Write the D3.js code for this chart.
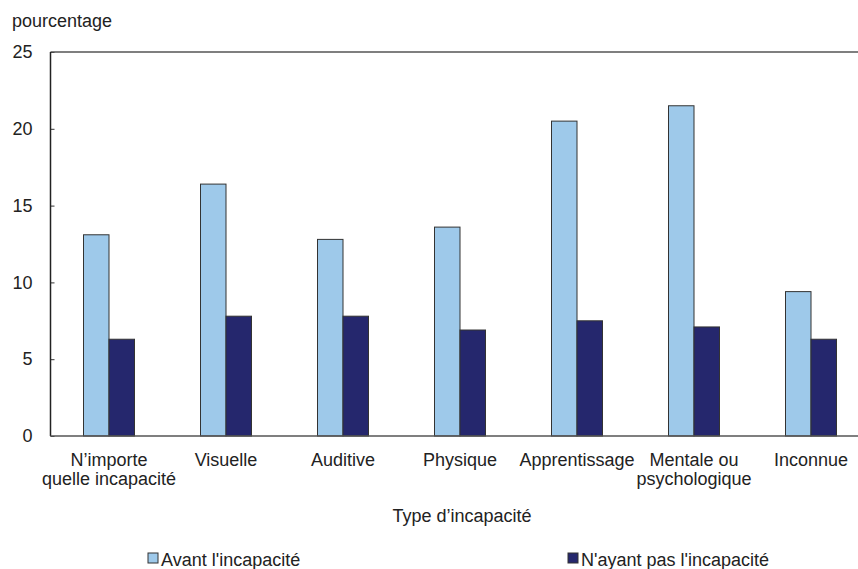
<!DOCTYPE html>
<html>
<head>
    <meta charset="utf-8">
    <title>Type d'incapacité</title>
    <script src="https://cdn.jsdelivr.net/npm/d3@7"></script>
    <style>
        body { margin: 0; background: #fff; }
        text { font-family: "Liberation Sans", Arial, sans-serif; fill: #222; }
    </style>
</head>
<body>
<svg id="chart" width="858" height="569"></svg>
<script>
    // categories (each entry split into its displayed lines)
    let categories = ["N'importe quelle incapacité", "Visuelle", "Auditive", "Physique", "Apprentissage", "Mentale ou psychologique", "Inconnue"]
    let categoryLines = [["N\u2019importe", "quelle incapacité"], ["Visuelle"], ["Auditive"], ["Physique"], ["Apprentissage"], ["Mentale ou", "psychologique"], ["Inconnue"]]
    let seriesNames = ["Avant l'incapacité", "N'ayant pas l'incapacité"]
    let avant = [13.1, 16.4, 12.8, 13.6, 20.5, 21.5, 9.4]
    let nAyantPas = [6.3, 7.8, 7.8, 6.9, 7.5, 7.1, 6.3]
    let yTicks = [0, 5, 10, 15, 20, 25]
    let colors = ["#9ec9ea", "#25276d"]

    let svg = d3.select("#chart")
    let plot = {left: 50.5, right: 869.5, top: 52, bottom: 436}

    let x = d3.scaleBand().domain(categories).range([plot.left, plot.right])
    let barWidth = 25.5
    let y = d3.scaleLinear().domain([0, 25]).range([plot.bottom, plot.top])

    // y axis labels + small inward ticks
    let yAxis = d3.axisLeft(y).tickValues(yTicks).tickSizeInner(-4).tickSizeOuter(0).tickPadding(18)
    let gy = svg.append("g").attr("transform", "translate(" + plot.left + ",0)").call(yAxis)
    gy.select(".domain").remove()
    gy.selectAll("line").attr("stroke", "#333")
    gy.selectAll("text").attr("font-size", 18).attr("fill", "#222").attr("font-family", "Liberation Sans, Arial, sans-serif")

    // bars
    let series = [avant, nAyantPas]
    series.forEach((vals, s) => {
        svg.append("g").selectAll("rect")
            .data(vals)
            .enter()
            .append("rect")
            .attr("x", (d, i) => x(categories[i]) + x.bandwidth() / 2 - barWidth + s * barWidth)
            .attr("y", d => y(d))
            .attr("width", barWidth)
            .attr("height", d => y(0) - y(d))
            .attr("fill", colors[s])
            .attr("stroke", "#333")
            .attr("stroke-width", 1)
    })

    // frame lines: top, left and base
    svg.append("line").attr("x1", plot.left).attr("x2", plot.right).attr("y1", y(25)).attr("y2", y(25))
        .attr("stroke", "#555").attr("stroke-width", 1.5)
    svg.append("line").attr("x1", plot.left).attr("x2", plot.left).attr("y1", y(25)).attr("y2", y(0))
        .attr("stroke", "#222").attr("stroke-width", 1.5)
    svg.append("line").attr("x1", plot.left).attr("x2", plot.right).attr("y1", y(0)).attr("y2", y(0))
        .attr("stroke", "#555").attr("stroke-width", 1.5)

    // category labels, one text per line
    categories.forEach((c, i) => {
        svg.append("g").selectAll("text")
            .data(categoryLines[i])
            .enter()
            .append("text")
            .attr("text-anchor", "middle")
            .attr("font-size", 18)
            .attr("x", x(c) + x.bandwidth() / 2)
            .attr("y", (t, j) => 466 + j * 19)
            .text(t => t)
    })

    // titles
    svg.append("text").attr("x", 12).attr("y", 27).attr("font-size", 18).text("pourcentage")
    svg.append("text").attr("x", 462).attr("y", 522).attr("text-anchor", "middle").attr("font-size", 18).text("Type d\u2019incapacité")

    // legend
    let legendX = [148, 568]
    seriesNames.forEach((name, s) => {
        svg.append("rect").attr("x", legendX[s]).attr("y", 553).attr("width", 10).attr("height", 10)
            .attr("fill", colors[s]).attr("stroke", "#333").attr("stroke-width", 1)
        svg.append("text").attr("x", legendX[s] + 13).attr("y", 566).attr("font-size", 18).text(name)
    })
</script>
</body>
</html>
